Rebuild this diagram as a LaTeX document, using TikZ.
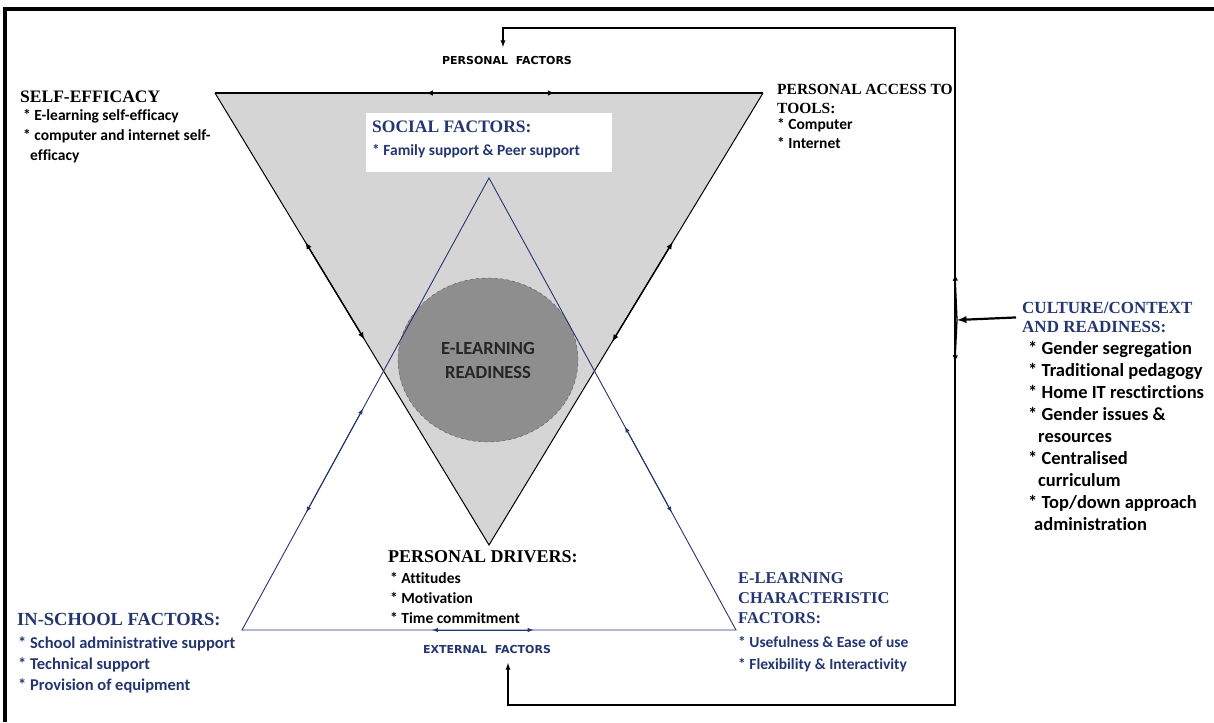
\documentclass[tikz,border=0pt]{standalone}
\usepackage{fontspec}
\setmainfont{Carlito}[Ligatures=NoCommon]
\newfontfamily\headfont{Liberation Serif}
\newfontfamily\tagfont{DejaVu Sans}
\usetikzlibrary{calc,shapes.geometric}
\definecolor{navy}{RGB}{36,54,112}
\definecolor{lightgrey}{RGB}{213,213,213}
\definecolor{coregrey}{RGB}{142,142,142}
\tikzset{
	head/.style={font=\headfont\bfseries\fontsize{18}{19}\selectfont, inner sep=0pt, anchor=north west, align=left},
	items/.style={font=\bfseries\fontsize{15.5}{20}\selectfont, inner sep=0pt, anchor=north west, align=left},
	bigitems/.style={font=\bfseries\fontsize{18.5}{22}\selectfont, inner sep=0pt, anchor=north west, align=left},
	tag/.style={font=\tagfont\bfseries\fontsize{11}{12}\selectfont, inner sep=0pt},
	edgearr/.style={latex-latex, line width=1.4pt},
}
\begin{document}
\begin{tikzpicture}[x=1pt,y=-1pt]
			\useasboundingbox (0,0) rectangle (1214,722);
			%coordinates
			\coordinate (tl) at (215,93);
			\coordinate (tr) at (763,93);
			\coordinate (bt) at (489,545);
			\coordinate (ap) at (489,178);
			\coordinate (bl) at (242,630);
			\coordinate (br) at (736,630);
			\coordinate (rt) at (955,28);
			\coordinate (rb) at (955,705);
			\coordinate (join) at (957,320);
			\coordinate (ru) at (955,274);
			\coordinate (rd) at (955,362);
			\coordinate (perin) at (503,47);
			\coordinate (extin) at (508,663);
			%frame
			\draw[line width=4pt] (5,722) -- (5,9) -- (1214,9);
			%Triangles
			\begin{scope}
				\fill[lightgrey] (tl) -- (tr) -- (bt) -- cycle;
				\fill[white] (366,113) rectangle (612,172);
				\draw[line width=1.8pt] (tl) -- (tr);
				\draw[line width=1pt] (tl) -- (bt) -- (tr);
				\draw[edgearr] ($(tl)!0.385!(tr)$) -- ($(tl)!0.62!(tr)$);
				\draw[edgearr] ($(tl)!0.33!(bt)$) -- ($(tl)!0.545!(bt)$);
				\draw[edgearr] ($(tr)!0.33!(bt)$) -- ($(tr)!0.55!(bt)$);
			\end{scope}
			%Core
			\node[ellipse, draw=gray!70!black, dashed, fill=coregrey, minimum width=180, minimum height=164, inner sep=0pt, align=center, font=\bfseries\fontsize{18.5}{24}\selectfont, text=black!85] (core) at (488,360) {E-LEARNING\\READINESS};
			\draw[navy, line width=0.9pt] (ap) -- (bl) -- (br) -- cycle;
			\draw[edgearr, navy, line width=1pt] ($(ap)!0.51!(bl)$) -- ($(ap)!0.74!(bl)$);
			\draw[edgearr, navy, line width=1pt] ($(ap)!0.55!(br)$) -- ($(ap)!0.74!(br)$);
			\draw[edgearr, navy, line width=1pt] ($(bl)!0.385!(br)$) -- ($(bl)!0.59!(br)$);
			%Factors
			\node[head, font=\headfont\bfseries\fontsize{17.5}{19}\selectfont] (self) at (20,91) {SELF-EFFICACY};
			\node[items] (selfl) at (23,109) {* E-learning self-efficacy\\* computer and internet self-\\\hspace{7pt}efficacy};
			\node[head, font=\headfont\bfseries\fontsize{15.5}{19}\selectfont] (acc) at (777,84) {PERSONAL ACCESS TO\\TOOLS:};
			\node[items] (accl) at (777,118) {* Computer\\[-1pt]* Internet};
			\node[head, navy, font=\headfont\bfseries\fontsize{17.5}{19}\selectfont] (soc) at (372,121) {SOCIAL FACTORS:};
			\node[items, navy] (socl) at (372,144) {* Family support \& Peer support};
			\node[head] (pdr) at (388,550) {PERSONAL DRIVERS:};
			\node[items] (pdrl) at (390,572) {* Attitudes\\* Motivation\\* Time commitment};
			\node[head, navy, font=\headfont\bfseries\fontsize{18.5}{19}\selectfont] (insch) at (17,613) {IN-SCHOOL FACTORS:};
			\node[items, navy, font=\bfseries\fontsize{16.5}{20}\selectfont] (inschl) at (18,636) {* School administrative support\\[1pt]* Technical support\\[1pt]* Provision of equipment};
			\node[head, navy, font=\headfont\bfseries\fontsize{16.5}{20}\selectfont] (elch) at (738,572) {E-LEARNING\\CHARACTERISTIC\\FACTORS:};
			\node[items, navy] (elchl) at (738,636) {* Usefulness \& Ease of use\\[2pt]* Flexibility \& Interactivity};
			\node[head, navy, font=\headfont\bfseries\fontsize{17}{19}\selectfont] (cul) at (1022,302) {CULTURE/CONTEXT\\AND READINESS:};
			\node[bigitems] (cull) at (1028,341) {* Gender segregation\\* Traditional pedagogy\\* Home IT resctirctions\\* Gender issues \&\\\hspace{10pt}resources\\* Centralised\\\hspace{10pt}curriculum\\* Top/down approach\\\hspace{6pt}administration};
			\node[tag] (perf) at (507,60) {PERSONAL\ \ FACTORS};
			\node[tag, navy] (ext) at (487,649) {EXTERNAL\ \ FACTORS};
			%Loop
			\draw[line width=1.3pt, latex-latex] (extin) |- (rb) -- (rt) -| (perin);
			\draw[line width=1.3pt, -latex] (join) -- (ru);
			\draw[line width=1.3pt, -latex] (join) -- (rd);
			\draw[line width=2.2pt, -latex] ([xshift=-6pt]cul.west) -- (join);
\end{tikzpicture}
\end{document}
